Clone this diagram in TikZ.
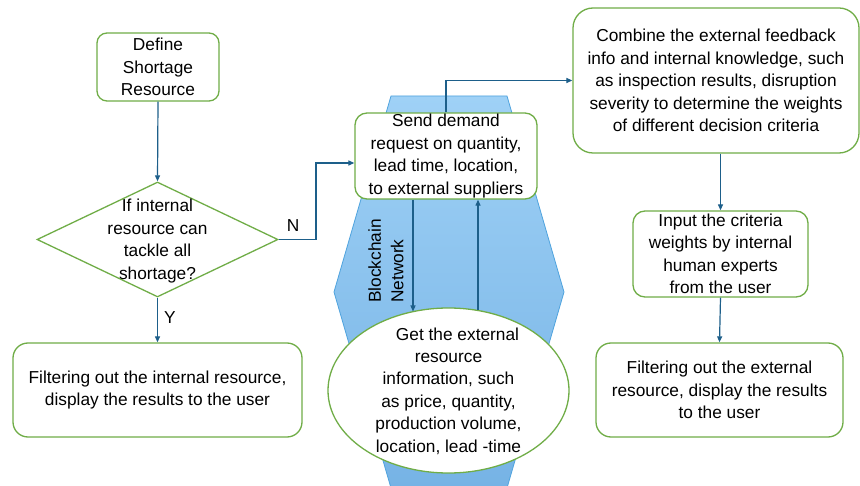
\documentclass[tikz,border=0pt]{standalone}
\usepackage{fontspec}
\setmainfont{Liberation Sans}
\usetikzlibrary{arrows.meta,shapes.geometric}
\definecolor{grn}{HTML}{70AD47}
\definecolor{arr}{HTML}{1D5F8A}
\definecolor{hextop}{HTML}{9FD1F6}
\definecolor{hexbot}{HTML}{76B3E5}
\definecolor{hexline}{HTML}{4FA3DE}
\newcommand\fs{\fontsize{17.3}{22.4}\selectfont}
\begin{document}
\begin{tikzpicture}[x=1pt,y=-1pt,
  box/.style={draw=grn, line width=1.3pt, fill=white, rounded corners=12pt, align=center, inner sep=0pt, font=\fs},
  conn/.style={draw=arr, line width=1.2pt, -{Triangle[length=6pt,width=5pt]}},
  txt/.style={align=center, inner sep=0pt, font=\fs}
]
\useasboundingbox (0,0) rectangle (860,486);
\fill[white] (0,0) rectangle (860,486);
% blockchain hexagon
\shade[top color=hextop, bottom color=hexbot, draw=hexline, line width=0.8pt]
  (391,96) -- (507,96) -- (564,292) -- (507,488) -- (391,488) -- (334,292) -- cycle;
\node[txt, rotate=90, align=left] (bc) at (386,261) {Blockchain\\Network};

% left column
\node[box, rounded corners=10pt, minimum width=122pt, minimum height=68pt] (define) at (158,67) {Define\\Shortage\\Resource};
\node[diamond, draw=grn, line width=1.3pt, fill=white, minimum width=241pt, minimum height=115pt, inner sep=0pt] (dec) at (157.5,239.5) {};
\node[txt] (dect) at (157.5,241) {If internal\\resource can\\tackle all\\shortage?};
\node[box, rounded corners=15pt, minimum width=289pt, minimum height=94pt] (filtI) at (157.5,390) {Filtering out the internal resource,\\display the results to the user};

% middle column
\node[box, minimum width=182pt, minimum height=86pt] (send) at (446,156) {Send demand\\request on quantity,\\lead time, location,\\to external suppliers};
\node[ellipse, draw=grn, line width=1.3pt, fill=white, minimum width=241pt, minimum height=165pt, inner sep=0pt] (ell) at (448.5,390.5) {};
\node[txt] (ellt) at (448.5,391) {\hspace*{18pt}Get the external\\resource\\information, such\\as price, quantity,\\production volume,\\location, lead -time};

% right column
\node[box, rounded corners=20pt, minimum width=286pt, minimum height=145pt] (combine) at (716,80.5) {Combine the external feedback\\info and internal knowledge, such\\as inspection results, disruption\\severity to determine the weights\\of different decision criteria};
\node[box, minimum width=175pt, minimum height=86pt] (input) at (720.5,254) {Input the criteria\\weights by internal\\human experts\\from the user};
\node[box, rounded corners=15pt, minimum width=247pt, minimum height=94pt] (filtE) at (719.5,390) {Filtering out the external\\resource, display the results\\to the user};

% connectors
\coordinate (nturn) at (316,239.5);
\coordinate (dn) at (413,311.5);
\coordinate (up) at (478,310.5);
\draw[conn] (define.south) -- (dec.north);
\draw[conn] (dec.east) -- (nturn) |- ([yshift=-7pt]send.west);
\node[txt] (nlab) at (293,226) {N};
\draw[conn] (dec.south) -- (filtI.north);
\node[txt] (ylab) at (170,318) {Y};
\draw[conn] (send.north) |- (combine.west);
\draw[conn] (send.south -| dn) -- (dn);
\draw[conn] (up) -- (send.south -| up);
\draw[conn] (combine.south -| input.north) -- (input.north);
\draw[conn] (input.south) -- (filtE.north);
\end{tikzpicture}
\end{document}
